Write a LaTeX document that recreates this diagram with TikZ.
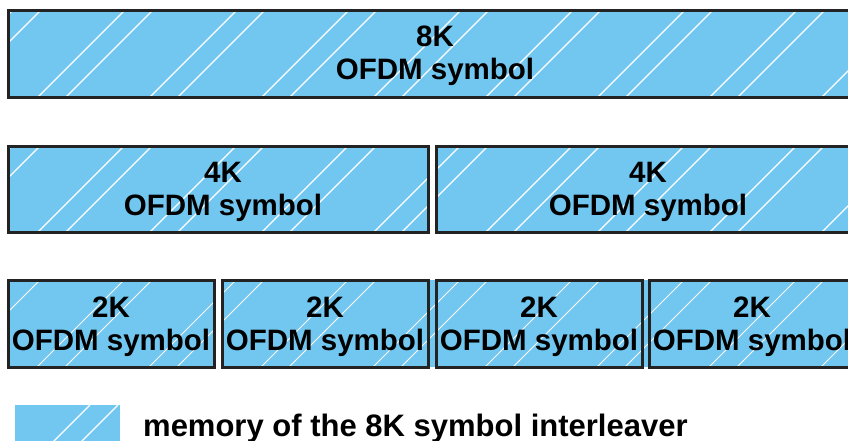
\documentclass[tikz,border=0pt]{standalone}
\usepackage{fontspec}
\setmainfont{Liberation Sans}
\definecolor{memblue}{RGB}{114,199,240}
\definecolor{edgegray}{RGB}{35,35,35}
\begin{document}
\begin{tikzpicture}[x=1pt,y=-1pt,
  memfill/.style={fill=memblue, draw=none},
  memedge/.style={draw=edgegray, line width=3pt},
  hatchline/.style={draw=white, line width=1.1pt},
  lbl/.style={font=\fontsize{29.5}{33}\selectfont\bfseries, text=black, anchor=base, inner sep=0pt},
  legendtxt/.style={font=\fontsize{31}{35}\selectfont\bfseries, text=black, anchor=base west, inner sep=0pt}]
\useasboundingbox (0,0) rectangle (848,441);

% ---------- fills ----------
\fill[memblue] (8,11) rectangle (862,98);
\fill[memblue] (8,146) rectangle (428,232);
\fill[memblue] (436,146) rectangle (862,232);
\fill[memblue] (8,280) rectangle (214,367);
\fill[memblue] (222,280) rectangle (862,367);
\fill[memblue] (15,405) rectangle (120,445);

% ---------- hatching ----------
\begin{scope}
  \clip (8,11) rectangle (862,98);
  \foreach \k in {-1,...,8}{
    \draw[hatchline] ({124+112*\k},11) -- ({124+112*\k-90},101);
    \draw[hatchline] ({152+112*\k},11) -- ({152+112*\k-90},101);
  }
\end{scope}
\begin{scope}
  \clip (8,146) rectangle (428,232) (436,146) rectangle (862,232);
  \foreach \k in {-1,...,8}{
    \draw[hatchline] ({124+112*\k},146) -- ({124+112*\k-90},236);
    \draw[hatchline] ({152+112*\k},146) -- ({152+112*\k-90},236);
  }
\end{scope}
\begin{scope}
  \clip (8,280) rectangle (214,367) (222,280) rectangle (862,367);
  \foreach \k in {-1,...,8}{
    \draw[hatchline, line width=0.9pt] ({124+112*\k},280) -- ({124+112*\k-90},370);
    \draw[hatchline, line width=0.9pt] ({152+112*\k},280) -- ({152+112*\k-90},370);
  }
\end{scope}
\begin{scope}
  \clip (15,405) rectangle (120,445);
  \draw[hatchline] (90,405) -- (50,445);
  \draw[hatchline] (118,405) -- (78,445);
\end{scope}

% ---------- borders ----------
\draw[memedge] (8,11) rectangle (862,98);
\draw[memedge] (8,146) rectangle (428,232);
\draw[memedge] (436,146) rectangle (862,232);
\draw[memedge] (8,280) rectangle (214,367);
\draw[memedge] (222,280) rectangle (428,367);
\draw[memedge] (436,280) rectangle (642,367);
\draw[memedge] (649,280) rectangle (856,367);

% ---------- labels ----------
\node[lbl] (k8a) at (435,47) {8K};
\node[lbl] (k8b) at (435,80) {OFDM symbol};

\node[lbl] (k4la) at (223,182) {4K};
\node[lbl] (k4lb) at (223,215) {OFDM symbol};
\node[lbl] (k4ra) at (648,182) {4K};
\node[lbl] (k4rb) at (648,215) {OFDM symbol};

\node[lbl] (k2aa) at (111,317) {2K};
\node[lbl] (k2ab) at (111,350) {OFDM symbol};
\node[lbl] (k2ba) at (325,317) {2K};
\node[lbl] (k2bb) at (325,350) {OFDM symbol};
\node[lbl] (k2ca) at (539,317) {2K};
\node[lbl] (k2cb) at (539,350) {OFDM symbol};
\node[lbl] (k2da) at (752,317) {2K};
\node[lbl] (k2db) at (752,350) {OFDM symbol};

\node[legendtxt] (legend) at (143,436) {memory of the 8K symbol interleaver};
\end{tikzpicture}
\end{document}
